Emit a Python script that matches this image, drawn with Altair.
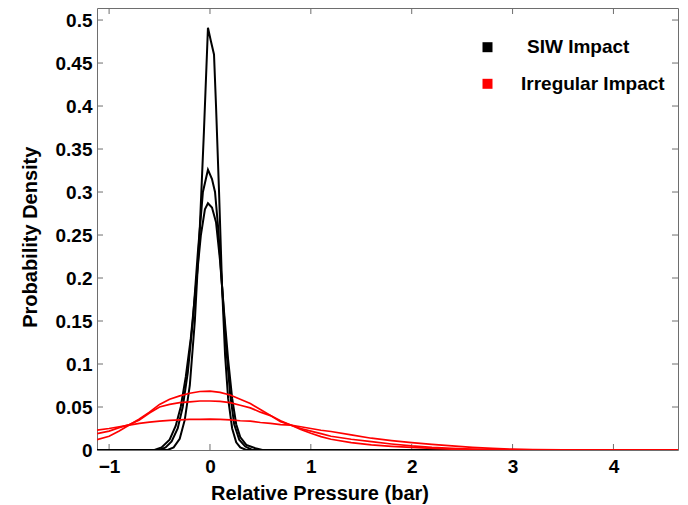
import altair as alt
import pandas as pd

# ---- data ----
# SIW impact density curves (black)
siw1_x = [-1.12, -0.42, -0.36, -0.30, -0.25, -0.20, -0.15, -0.10, -0.06, -0.02, 0.01, 0.04, 0.06, 0.09, 0.12, 0.15, 0.18, 0.22, 0.26, 0.30, 0.36, 4.65]
siw1_y = [0.0, 0.0, 0.003, 0.013, 0.035, 0.075, 0.15, 0.26, 0.37, 0.491, 0.475, 0.46, 0.40, 0.30, 0.19, 0.11, 0.06, 0.025, 0.009, 0.003, 0.0, 0.0]

siw2_x = [-1.12, -0.50, -0.44, -0.38, -0.32, -0.27, -0.22, -0.17, -0.12, -0.07, -0.02, 0.02, 0.05, 0.08, 0.12, 0.16, 0.20, 0.24, 0.29, 0.35, 0.42, 4.65]
siw2_y = [0.0, 0.0, 0.003, 0.010, 0.025, 0.050, 0.090, 0.150, 0.230, 0.300, 0.326, 0.315, 0.300, 0.260, 0.190, 0.120, 0.065, 0.030, 0.012, 0.004, 0.0, 0.0]

siw3_x = [-1.12, -0.55, -0.48, -0.40, -0.34, -0.29, -0.24, -0.19, -0.14, -0.09, -0.05, -0.02, 0.02, 0.06, 0.10, 0.14, 0.18, 0.22, 0.26, 0.30, 0.36, 0.45, 0.52, 4.65]
siw3_y = [0.0, 0.0, 0.003, 0.012, 0.028, 0.050, 0.085, 0.130, 0.190, 0.250, 0.280, 0.287, 0.282, 0.265, 0.220, 0.160, 0.105, 0.060, 0.030, 0.015, 0.006, 0.002, 0.0, 0.0]

# Irregular impact density curves (red), common x grid
irr_x = [-1.12, -1.0, -0.9, -0.8, -0.7, -0.6, -0.5, -0.4, -0.3, -0.2, -0.1, 0.0, 0.1, 0.2, 0.3, 0.4, 0.5, 0.6, 0.7, 0.8, 0.9, 1.0, 1.1, 1.2, 1.4, 1.6, 1.8, 2.0, 2.2, 2.4, 2.6, 2.8, 3.0, 3.2, 3.5, 4.0, 4.65]
irr1_y = [0.012, 0.016, 0.022, 0.029, 0.036, 0.044, 0.053, 0.059, 0.063, 0.066, 0.068, 0.0685, 0.067, 0.064, 0.059, 0.054, 0.047, 0.040, 0.033, 0.029, 0.024, 0.0195, 0.0155, 0.0125, 0.0085, 0.006, 0.0043, 0.003, 0.002, 0.001, 0.0005, 0.0002, 0.0, 0.0, 0.0, 0.0, 0.0]
irr2_y = [0.019, 0.022, 0.026, 0.0295, 0.035, 0.043, 0.050, 0.053, 0.055, 0.056, 0.057, 0.057, 0.0565, 0.055, 0.052, 0.049, 0.044, 0.040, 0.034, 0.029, 0.025, 0.022, 0.019, 0.016, 0.0125, 0.0097, 0.007, 0.0047, 0.003, 0.002, 0.001, 0.0005, 0.0002, 0.0, 0.0, 0.0, 0.0]
irr3_y = [0.023, 0.025, 0.027, 0.029, 0.031, 0.0325, 0.0335, 0.0345, 0.035, 0.0355, 0.0357, 0.0358, 0.0355, 0.035, 0.034, 0.0335, 0.032, 0.031, 0.0295, 0.029, 0.027, 0.025, 0.023, 0.0215, 0.0175, 0.0137, 0.011, 0.0085, 0.0065, 0.0047, 0.003, 0.0018, 0.001, 0.0005, 0.0001, 0.0, 0.0]

groups = ["SIW Impact", "Irregular Impact"]
colors = ["#000000", "#ff0000"]
x_ticks = [-1, 0, 1, 2, 3, 4]
y_ticks = [0, 0.05, 0.1, 0.15, 0.2, 0.25, 0.3, 0.35, 0.4, 0.45, 0.5]

rows = []
for cid, (xs, ys) in enumerate([(siw1_x, siw1_y), (siw2_x, siw2_y), (siw3_x, siw3_y)]):
    for i, (a, b) in enumerate(zip(xs, ys)):
        rows.append({"x": a, "y": b, "curve": f"s{cid}", "group": groups[0], "i": i})
siw_df = pd.DataFrame(rows)
rows = []
for cid, ys in enumerate([irr1_y, irr2_y, irr3_y]):
    for i, (a, b) in enumerate(zip(irr_x, ys)):
        rows.append({"x": a, "y": b, "curve": f"r{cid}", "group": groups[1], "i": i})
irr_df = pd.DataFrame(rows)

W, H = 581, 442
FONT = "Liberation Sans"
GRAY = "#6e6e6e"

xscale = alt.Scale(domain=[-1.12, 4.64], nice=False, zero=False)
yscale = alt.Scale(domain=[0, 0.514], nice=False, zero=True)

xaxis = alt.Axis(values=x_ticks, ticks=False, domain=False, grid=False, format="~g",
                 labelFont=FONT, labelFontSize=19, labelFontWeight="bold", labelColor="black",
                 labelPadding=7, title="Relative Pressure (bar)", titleFont=FONT,
                 titleFontSize=20, titleFontWeight="bold", titleColor="black",
                 titleX=222.5, titleY=49, titleAlign="center", titleBaseline="alphabetic")
yaxis = alt.Axis(values=y_ticks, ticks=False, domain=False, grid=False, format="~g",
                 labelFont=FONT, labelFontSize=19, labelFontWeight="bold", labelColor="black",
                 labelPadding=5, title="Probability Density", titleFont=FONT,
                 titleFontSize=20, titleFontWeight="bold", titleColor="black",
                 titleX=-61, titleY=228.7, titleAlign="center", titleBaseline="alphabetic",
                 titleAngle=270)

def make_legend(y, offset):
    return alt.Legend(title=None, orient="none", legendX=381, legendY=y, padding=0,
                      symbolType="square", symbolSize=25, symbolStrokeWidth=5,
                      labelFont=FONT, labelFontSize=19, labelFontWeight="bold",
                      labelColor="black", labelOffset=offset)

black = alt.Chart(siw_df).mark_line(strokeWidth=2, clip=True).encode(
    x=alt.X("x:Q", scale=xscale, axis=xaxis),
    y=alt.Y("y:Q", scale=yscale, axis=yaxis),
    color=alt.Color("group:N", scale=alt.Scale(domain=[groups[0]], range=[colors[0]]),
                    legend=make_legend(29.7, 30)),
    detail="curve:N",
    order="i:Q",
)
red = alt.Chart(irr_df).mark_line(strokeWidth=1.7, clip=True).encode(
    x=alt.X("x:Q"),
    y=alt.Y("y:Q"),
    stroke=alt.Stroke("group:N", scale=alt.Scale(domain=[groups[1]], range=[colors[1]]),
                      legend=make_legend(66.3, 24)),
    detail="curve:N",
    order="i:Q",
)

xt_df = pd.DataFrame({"x": x_ticks})
yt_df = pd.DataFrame({"y": y_ticks})
tick_b = alt.Chart(xt_df).mark_rule(color=GRAY, strokeWidth=1).encode(
    x="x:Q", y=alt.value(H - 6), y2=alt.value(H))
tick_t = alt.Chart(xt_df).mark_rule(color=GRAY, strokeWidth=1).encode(
    x="x:Q", y=alt.value(0), y2=alt.value(6))
tick_l = alt.Chart(yt_df).mark_rule(color=GRAY, strokeWidth=1).encode(
    y="y:Q", x=alt.value(0), x2=alt.value(6))
tick_r = alt.Chart(yt_df).mark_rule(color=GRAY, strokeWidth=1).encode(
    y="y:Q", x=alt.value(W - 6), x2=alt.value(W))

chart = alt.layer(tick_b, tick_t, tick_l, tick_r, black, red).properties(
    width=W, height=H,
    autosize=alt.AutoSizeParams(type="none"),
    padding={"left": 97, "top": 8, "right": 10, "bottom": 55},
    background="white",
).configure_view(stroke=GRAY, strokeWidth=1)

chart.save("out.html", embed_options={"renderer": "svg", "actions": False})
